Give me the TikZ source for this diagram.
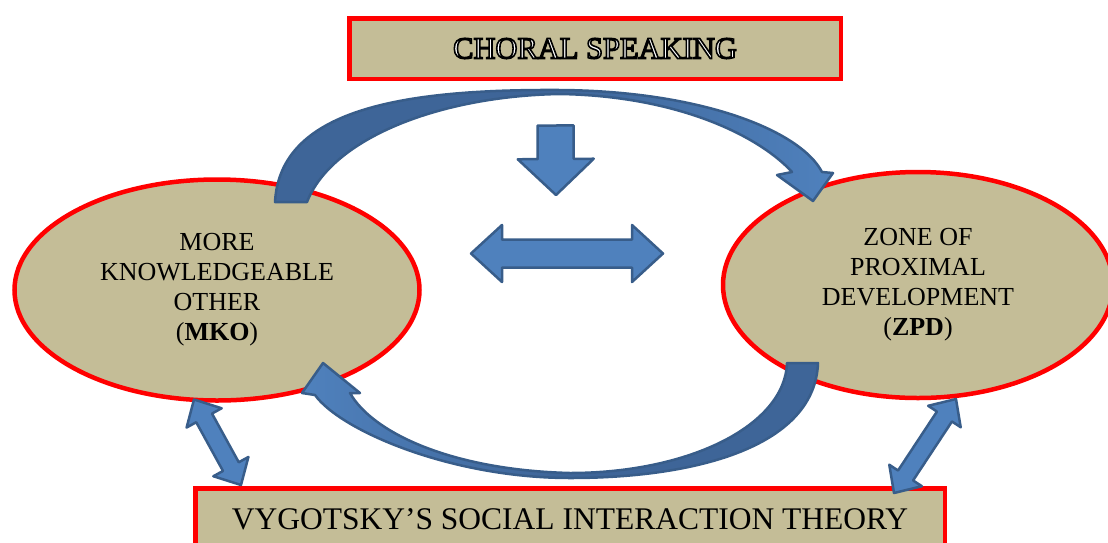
\documentclass[tikz,border=0pt]{standalone}
\usepackage{fontspec}
\setmainfont{Liberation Serif}
\usetikzlibrary{shapes.geometric,calc}

\definecolor{tan}{HTML}{C4BD97}
\definecolor{arrowfill}{HTML}{4F81BD}
\definecolor{arrowline}{HTML}{385D8A}
\definecolor{arcdark}{HTML}{3E6598}

% white letters with a black outline
\newcommand{\outlined}[1]{\special{pdf:literal direct 0 G 2 Tr 1.6 w}#1\special{pdf:literal direct 0 Tr}}
% #1,#2 tips, #3 shaft half width, #4 head half width, #5 head length
\newcommand{\dblarrow}[5]{%
  \draw[block arrow] (#1)
    -- ($(#1)!#5!(#2)!#4!90:(#2)$) -- ($(#1)!#5!(#2)!#3!90:(#2)$)
    -- ($(#2)!#5!(#1)!#3!-90:(#1)$) -- ($(#2)!#5!(#1)!#4!-90:(#1)$)
    -- (#2)
    -- ($(#2)!#5!(#1)!#4!90:(#1)$) -- ($(#2)!#5!(#1)!#3!90:(#1)$)
    -- ($(#1)!#5!(#2)!#3!-90:(#2)$) -- ($(#1)!#5!(#2)!#4!-90:(#2)$)
    -- cycle;}
% #1 tail, #2 tip, #3 shaft half width, #4 head half width, #5 head length
\newcommand{\sglarrow}[5]{%
  \draw[block arrow] ($(#1)!#3!90:(#2)$)
    -- ($(#2)!#5!(#1)!#3!-90:(#1)$) -- ($(#2)!#5!(#1)!#4!-90:(#1)$)
    -- (#2)
    -- ($(#2)!#5!(#1)!#4!90:(#1)$) -- ($(#2)!#5!(#1)!#3!90:(#1)$)
    -- ($(#1)!#3!-90:(#2)$) -- cycle;}

\begin{document}
\begin{tikzpicture}
[x=1pt,y=-1pt,
 box/.style={draw=red,line width=4.5pt,fill=tan,inner sep=0pt},
 zone/.style={ellipse,draw=red,line width=4.5pt,fill=tan,inner sep=0pt,
   align=center,font=\fontsize{26}{30}\selectfont},
 block arrow/.style={draw=arrowline,line width=2.5pt,fill=arrowfill,line join=round},
 curved arrow/.style={draw=arrowline,line width=2.5pt,line join=round}]
  \useasboundingbox (0,0) rectangle (1108,542);

  \node[box,minimum width=491.5pt,minimum height=60.5pt,text=white]
    (choral) at (595,48.5) {\fontsize{30.5}{36}\selectfont\outlined{CHORAL SPEAKING}};
  \node[box,minimum width=749.5pt,minimum height=62pt,anchor=north]
    (theory) at (570,486.25) {\fontsize{31.5}{36}\selectfont VYGOTSKY’S SOCIAL INTERACTION THEORY};
  \node[zone,minimum width=405pt,minimum height=221pt]
    (mko) at (217,290) {MORE\\KNOWLEDGEABLE\\OTHER\\(\textbf{MKO})};
  \node[zone,minimum width=390pt,minimum height=226pt]
    (zpd) at (918,285) {ZONE OF\\PROXIMAL\\DEVELOPMENT\\(\textbf{ZPD})};

  % curved arrows between the two zones
  \draw[curved arrow,left color=arcdark,right color=arrowfill,middle color=arcdark]
    (275,202) .. controls (280,110) and (400,89) .. (560,90)
    .. controls (700,91) and (800,130) .. (822,172) -- (833,173) -- (813,201)
    -- (777,175) -- (792,172) .. controls (760,137) and (680,96) .. (560,94)
    .. controls (440,96) and (332,138) .. (307,202) -- cycle;
  \draw[curved arrow,left color=arrowfill,right color=arcdark,middle color=arcdark]
    (818,363) .. controls (815,445) and (700,478) .. (570,478)
    .. controls (450,478) and (340,430) .. (315,395) -- (302,393) -- (323,363)
    -- (360,393) -- (350,393) .. controls (372,432) and (450,470) .. (570,473)
    .. controls (690,473) and (785,425) .. (787,363) -- cycle;

  \coordinate (down-tail) at (555.5,125.5);
  \coordinate (down-tip) at (556,195);
  \coordinate (link-left) at (471,253.5);
  \coordinate (link-right) at (663,253.5);
  \coordinate (mko-end) at (194,399.5);
  \coordinate (mko-theory) at (241,485);
  \coordinate (zpd-end) at (956,399);
  \coordinate (zpd-theory) at (894,493);

  \sglarrow{down-tail}{down-tip}{18pt}{38pt}{36pt}
  \dblarrow{link-left}{link-right}{14pt}{28.5pt}{31pt}
  \dblarrow{mko-end}{mko-theory}{9pt}{20pt}{21pt}
  \dblarrow{zpd-end}{zpd-theory}{9pt}{19.5pt}{21pt}
\end{tikzpicture}
\end{document}
